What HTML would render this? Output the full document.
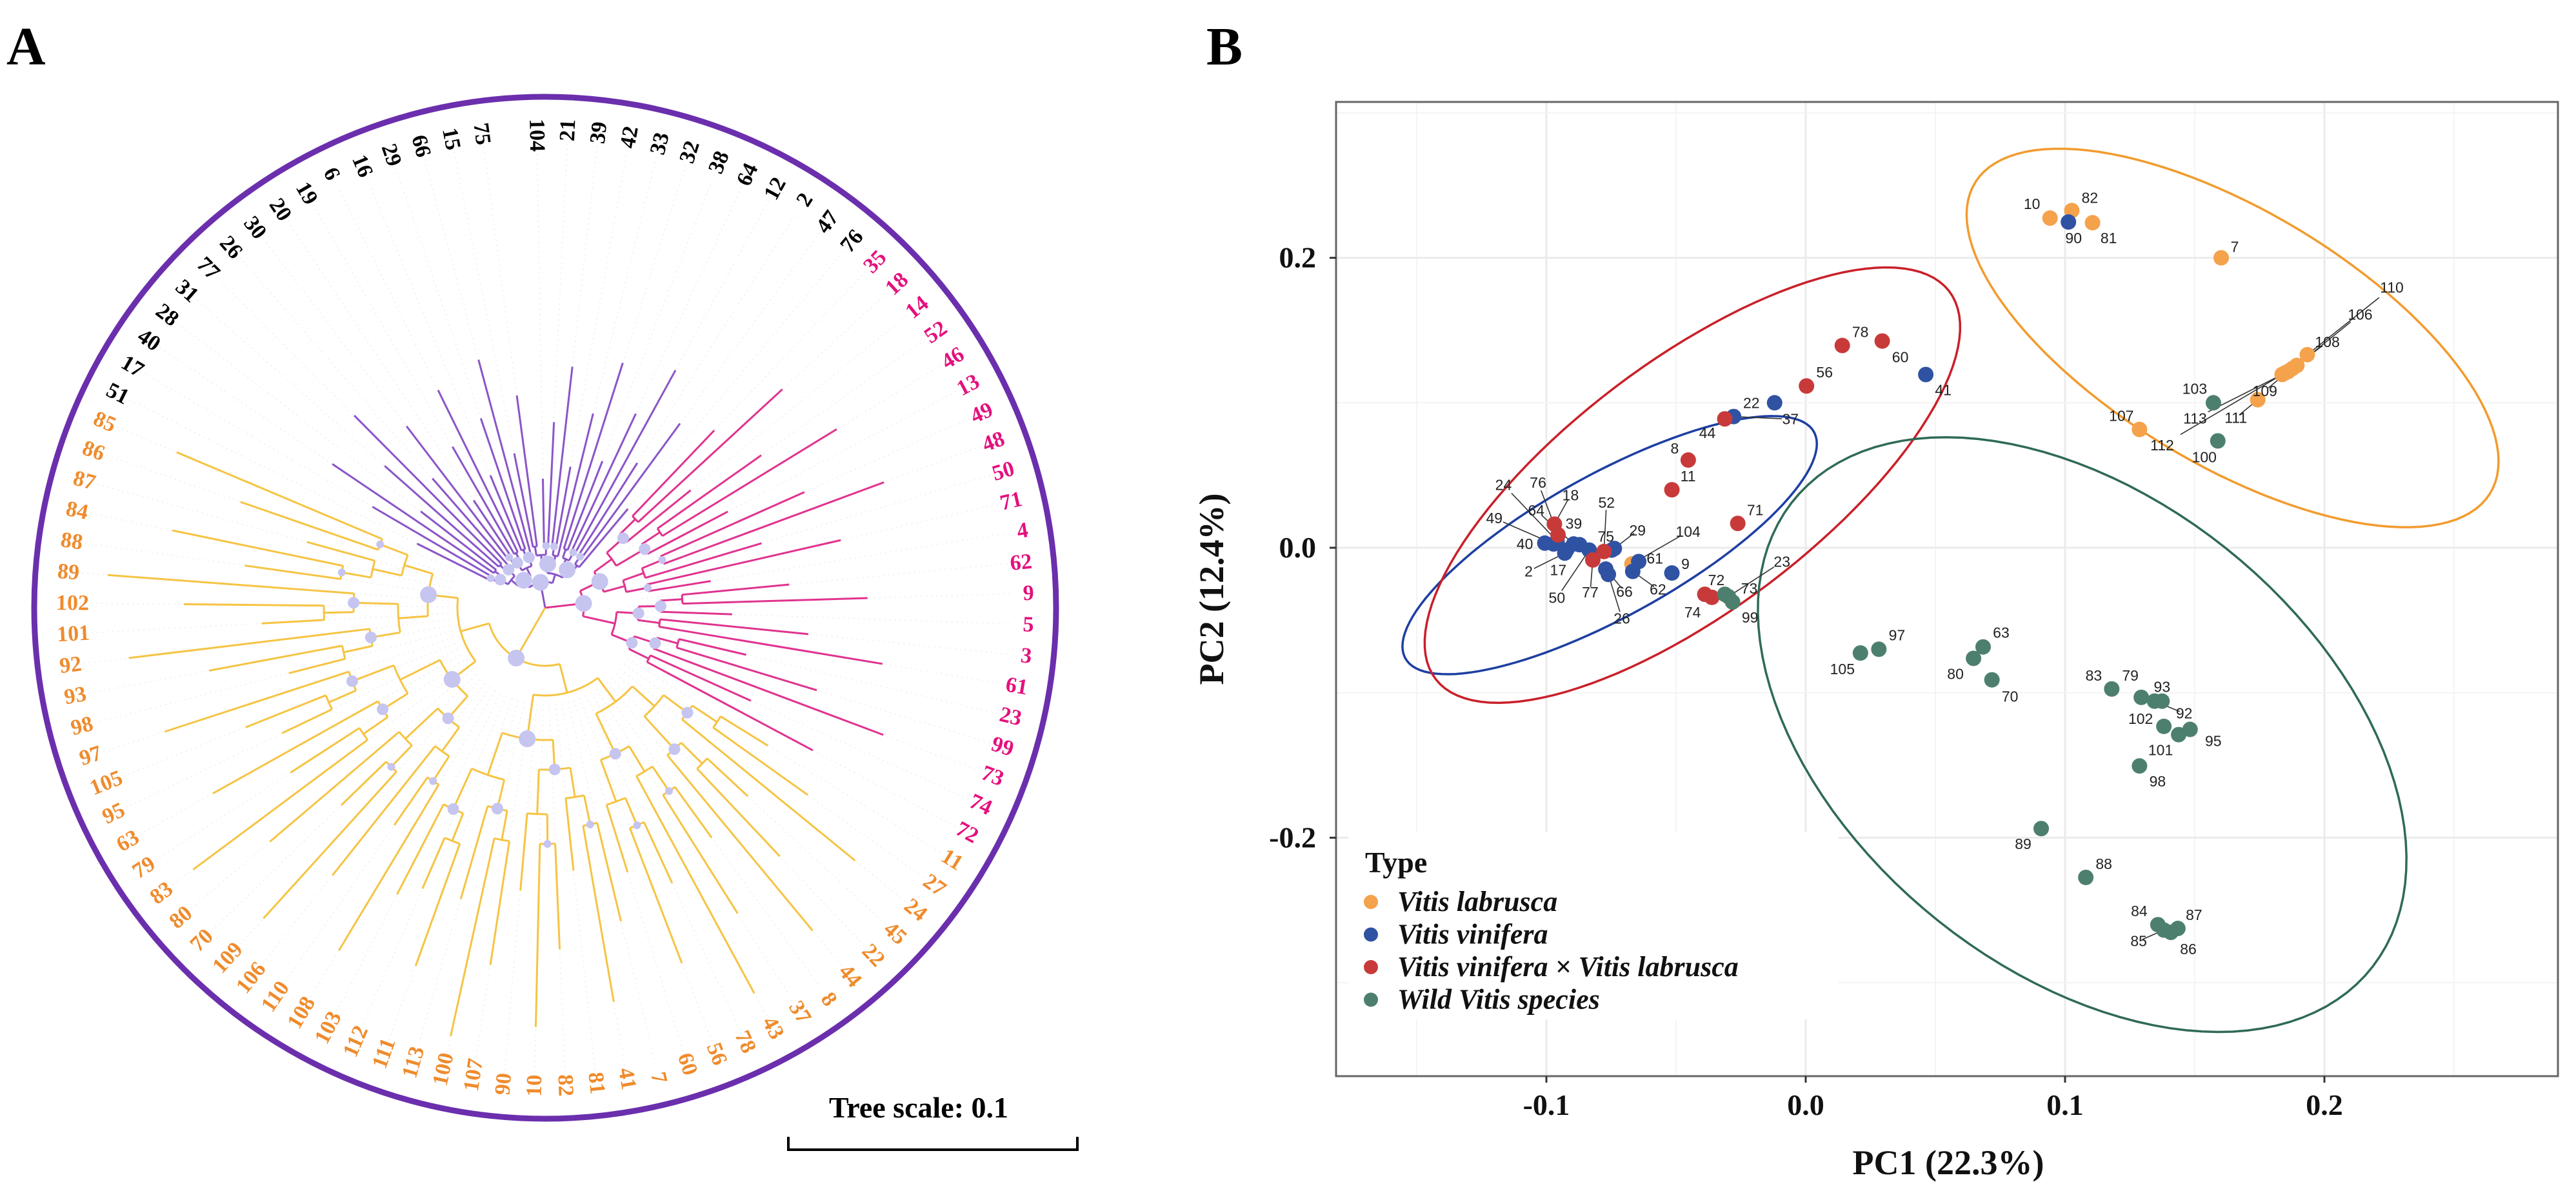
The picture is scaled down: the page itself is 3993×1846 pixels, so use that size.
<!DOCTYPE html>
<html><head><meta charset="utf-8"><style>
html,body{margin:0;padding:0;background:#fff;}
svg{display:block;}
</style></head><body>
<svg id="fig" width="3993" height="1846" viewBox="0 0 3993 1846" xmlns="http://www.w3.org/2000/svg">
<text x="10" y="100" font-family="Liberation Serif, serif" font-weight="bold" font-size="84">A</text>
<text x="1870" y="100" font-family="Liberation Serif, serif" font-weight="bold" font-size="84">B</text>
<g id="tree"></g>
<g id="pca"></g>
</svg>
<script>
// ---------- Panel A data ----------
const tipLabels = ["104","21","39","42","33","32","38","64","12","2","47","76",
"35","18","14","52","46","13","49","48","50","71","4","62","9","5","3","61","23","99","73","74","72",
"11","27","24","45","22","44","8","37","43","78","56","60","7","41","81","82","10","90","107","100","113","111","112","103","108","110","106","109","70","80","83","79","63","95","105","97","98","93","92","101","102","89","88","84","87","86","85",
"51","17","40","28","31","77","26","30","20","19","6","16","29","66","15","75"];
const tipClade = [];
for (let i=0;i<tipLabels.length;i++){ tipClade.push(i<12?0:(i<33?1:(i<80?2:0))); }

// ---------- Panel B data ----------
const typeNames = ["Vitis labrusca","Vitis vinifera","Vitis vinifera × Vitis labrusca","Wild Vitis species"];
const ptLabels = ["10","82","81","7","110","106","108","109","113","112","111","107","104",
"90","41","22","37","40","49","2","24","64","17","39","50","75","29","66","26","62","61","9",
"78","60","56","44","8","11","71","18","76","77","52","74","72",
"73","23","99","103","100","97","105","63","80","70","83","79","93","92","102","95","101","98","89","88","84","85","86","87"];
const ptType = [0,0,0,0,0,0,0,0,0,0,0,0,0,
1,1,1,1,1,1,1,1,1,1,1,1,1,1,1,1,1,1,1,
2,2,2,2,2,2,2,2,2,2,2,2,2,
3,3,3,3,3,3,3,3,3,3,3,3,3,3,3,3,3,3,3,3,3,3,3,3];
const pc1 = [0.0942,0.1026,0.1106,0.1602,0.1934,0.1894,0.1877,0.1860,0.1837,0.1847,0.1743,0.1287,-0.0670,
0.1013,0.0463,-0.0120,-0.0278,-0.1006,-0.0972,-0.0929,-0.0959,-0.0895,-0.0922,-0.0872,-0.0835,-0.0748,-0.0738,-0.0771,-0.0761,-0.0667,-0.0644,-0.0516,
0.0141,0.0295,0.0003,-0.0312,-0.0453,-0.0516,-0.0262,-0.0969,-0.0955,-0.0821,-0.0778,-0.0389,-0.0362,
-0.0312,-0.0298,-0.0282,0.1572,0.1589,0.0282,0.0211,0.0684,0.0647,0.0718,0.1180,0.1294,0.1374,0.1345,0.1381,0.1482,0.1438,0.1287,0.0908,0.1080,0.1358,0.1381,0.1408,0.1435];
const pc2 = [0.2274,0.2326,0.2242,0.2000,0.1332,0.1258,0.1237,0.1216,0.1195,0.1205,0.1021,0.0816,-0.0111,
0.2247,0.1195,0.1000,0.0905,0.0032,0.0026,-0.0037,0.0047,0.0026,-0.0016,0.0021,-0.0016,-0.0016,-0.0005,-0.0147,-0.0184,-0.0163,-0.0095,-0.0174,
0.1395,0.1426,0.1116,0.0889,0.0605,0.0400,0.0168,0.0163,0.0089,-0.0084,-0.0026,-0.0321,-0.0342,
-0.0321,-0.0337,-0.0374,0.1000,0.0737,-0.0700,-0.0726,-0.0684,-0.0763,-0.0911,-0.0974,-0.1032,-0.1058,-0.1058,-0.1232,-0.1253,-0.1289,-0.1505,-0.1937,-0.2274,-0.2600,-0.2637,-0.2653,-0.2626];
const xTicks = [-0.1,0.0,0.1,0.2];
const xTickLabels = ["-0.1","0.0","0.1","0.2"];
const yTicks = [-0.2,0.0,0.2];
const yTickLabels = ["-0.2","0.0","0.2"];
const ellCx = [0.1646,-0.0756,-0.0437,0.1066];
const ellCy = [0.1447,0.0018,0.0432,-0.1289];
const ellUx = [0.0976,0.0782,0.0972,0.1021];
const ellUy = [-0.1114,0.0797,0.1374,-0.1779];
const ellVx = [-0.0315,0.0164,0.0348,-0.0722];
const ellVy = [-0.0681,-0.0397,-0.0606,-0.1021];

const labelOffsets = {"10":[-28,-22],"82":[28,-20],"81":[25,24],"7":[21,-17],"110":[131,-104],"106":[98,-79],"108":[54,-41],"109":[-36,30],"113":[-135,68],"112":[-190,112],"111":[-34,28],"107":[-28,-21],"104":[87,-50],
"90":[8,25],"41":[27,24],"22":[-36,0],"37":[88,4],"40":[-31,1],"49":[-92,-40],"2":[-56,28],"24":[-83,-87],"64":[-58,-52],"17":[-13,31],"39":[-9,-33],"50":[-50,74],"75":[-9,-21],"29":[36,-28],"66":[29,35],"26":[21,68],"62":[39,28],"61":[25,-5],"9":[21,-14],
"78":[28,-21],"60":[28,25],"56":[28,-21],"44":[-27,22],"8":[-21,-18],"11":[25,-21],"71":[27,-21],"18":[25,-45],"76":[-31,-81],"77":[-4,50],"52":[4,-76],"74":[-19,28],"72":[7,-27],
"73":[38,-9],"23":[83,-54],"99":[27,24],"103":[-29,-22],"100":[-21,25],"97":[28,-22],"105":[-28,25],"63":[28,-22],"80":[-28,24],"70":[28,26],"83":[-28,-21],"79":[-17,-34],"93":[0,-22],"92":[46,19],"102":[-36,-12],"95":[36,18],"101":[-28,24],"98":[28,24],"89":[-28,24],"88":[28,-21],"84":[-29,-21],"85":[-39,17],"86":[27,26],"87":[25,-21]};

const NS="http://www.w3.org/2000/svg";
function mk(tag,attrs,parent){const e=document.createElementNS(NS,tag);for(const k in attrs)e.setAttribute(k,attrs[k]);parent.appendChild(e);return e;}

// ================= Panel A =================
(function(){
const g=document.getElementById('tree');
const CX=845, CY=942, R=792;
const N=tipLabels.length, start=-91, step=3.72;
const ang=i=>(start+i*step+(i<12?360:0));
const rad=d=>d*Math.PI/180;
const pt=(r,a)=>[CX+r*Math.cos(rad(a)),CY+r*Math.sin(rad(a))];
const branchCol=["#8a55c8","#e0338f","#f5c443"];
const labCol=["#000","#e4107d","#ef8b2c"];
const stepFor=[14,34,46];
for(let i=0;i<N;i++){const a=ang(i);const p1=pt(150,a),p2=pt(725,a);
 const l=mk('line',{x1:p1[0],y1:p1[1],x2:p2[0],y2:p2[1],stroke:"#ececec","stroke-width":1.5,"stroke-dasharray":"2 6"},g);
 
 }
const tipLen=i=>{const c=tipClade[i];const k=(i*37)%11;return c===0?200+k*22:(c===1?260+k*30:380+k*30);};
const nodes=[];
function arc(r,a1,a2,col){if(a2<a1){const t=a1;a1=a2;a2=t;}const p1=pt(r,a1),p2=pt(r,a2);const large=(a2-a1)>180?1:0;
 const e=mk('path',{d:`M${p1[0]},${p1[1]} A${r},${r} 0 ${large} 1 ${p2[0]},${p2[1]}`,fill:"none",stroke:col,"stroke-width":3},g);
 
 }
function rline(r1,r2,a,col){const p1=pt(r1,a),p2=pt(r2,a);
 const e=mk('line',{x1:p1[0],y1:p1[1],x2:p2[0],y2:p2[1],stroke:col,"stroke-width":3},g);
 
 }
function build(idx,r,col,cl){
 if(idx.length===1){rline(r,Math.max(tipLen(idx[0]),r+40),ang(idx[0]),col);return ang(idx[0]);}
 const mid=Math.ceil(idx.length/2);
 const s=stepFor[cl];
 const r1=r+s, r2=r+s*(idx.length%3===0?1.5:1);
 const a1=build(idx.slice(0,mid),r1,col,cl);
 const a2=build(idx.slice(mid),r2,col,cl);
 rline(r,r1,a1,col);
 rline(r,r2,a2,col);
 arc(r,a1,a2,col);
 const am=(a1+a2)/2;nodes.push([r,am,idx.length]);
 return am;}
function attach(idx,rStart,r0,col,cl){const am=build(idx,r0,col,cl);rline(rStart,r0,am,col);return am;}
const purple=[];for(let i=80;i<N;i++)purple.push(i);for(let i=0;i<12;i++)purple.push(i);
const pink=[];for(let i=12;i<33;i++)pink.push(i);
const yellow=[];for(let i=33;i<80;i++)yellow.push(i);
attach(purple,0,40,branchCol[0],0);
attach(pink,0,60,branchCol[1],1);
attach(yellow,0,90,branchCol[2],2);
nodes.forEach((n,j)=>{if(j%2)return;const p=pt(n[0],n[1]);const rr=n[2]>6?13:(n[2]>2?9:6);
 const c=mk('circle',{cx:p[0],cy:p[1],r:rr,fill:"#c6c5f0"},g);
 
 });
const ring=mk('circle',{cx:CX,cy:CY,r:R,fill:"none",stroke:"#6b2fad","stroke-width":9},g);


for(let i=0;i<N;i++){let a=ang(i);const p=pt(758,a);const c=Math.cos(rad(a));
 const rot=c>=0?a:a+180;const anch=c>=0?"end":"start";
 const t=mk('text',{x:0,y:0,transform:`translate(${p[0]},${p[1]}) rotate(${rot})`,"text-anchor":anch,"dominant-baseline":"central","font-family":"Liberation Serif, serif","font-weight":"bold","font-size":34,fill:labCol[tipClade[i]]},g);
 t.textContent=tipLabels[i];
 
 }
const st=mk('text',{x:1424,y:1732,"text-anchor":"middle","font-family":"Liberation Serif, serif","font-weight":"bold","font-size":46,fill:"#000"},g);
st.textContent="Tree scale: 0.1";


const sb=mk('path',{d:"M1222,1762 L1222,1782 L1670,1782 L1670,1762",fill:"none",stroke:"#000","stroke-width":4},g);


})();

// ================= Panel B =================
(function(){
const g=document.getElementById('pca');
const L=2071,Rr=3965,T=158,B=1668;
const X=v=>2799+v*4020;
const Y=v=>849-v*2247;
const cols=["#f4a24c","#3052a3","#c83a3a","#4d7f6f"];
const ellCols=["#f29b2e","#1d3fa2","#c9202a","#2f6a57"];
const bg=mk('rect',{x:L,y:T,width:Rr-L,height:B-T,fill:"#fff"},g);


for(let v=-0.15;v<=0.28;v+=0.05){const x=X(v);const major=Math.abs(Math.round(v*20))%2===0;
 const l=mk('line',{x1:x,y1:T,x2:x,y2:B,stroke:major?"#ebebeb":"#f4f4f4","stroke-width":major?3:2},g);
 
 }
for(let v=-0.3;v<=0.31;v+=0.1){const y=Y(v);const major=Math.abs(Math.round(v*10))%2===0;
 const l=mk('line',{x1:L,y1:y,x2:Rr,y2:y,stroke:major?"#ebebeb":"#f4f4f4","stroke-width":major?3:2},g);
 
 }
const lb=mk('rect',{x:2090,y:1290,width:760,height:290,fill:"#fff"},g);


for(let k=0;k<4;k++){let d="";for(let s=0;s<=120;s++){const t=s/120*2*Math.PI;
 const vx=ellCx[k]+ellUx[k]*Math.cos(t)+ellVx[k]*Math.sin(t);
 const vy=ellCy[k]+ellUy[k]*Math.cos(t)+ellVy[k]*Math.sin(t);
 d+=(s?"L":"M")+X(vx).toFixed(1)+","+Y(vy).toFixed(1);}
 const e=mk('path',{d:d+"Z",fill:"none",stroke:ellCols[k],"stroke-width":3.5},g);
 
 }
for(let i=0;i<pc1.length;i++){const o=labelOffsets[ptLabels[i]]||[24,-20];const px=X(pc1[i]),py=Y(pc2[i]);
 if(Math.hypot(o[0],o[1])>42){const l=mk('line',{x1:px,y1:py,x2:px+o[0]*0.85,y2:py+o[1]*0.85,stroke:"#333","stroke-width":1.6},g);
  
  }}
for(let i=0;i<pc1.length;i++){const p=mk('circle',{cx:X(pc1[i]),cy:Y(pc2[i]),r:12,fill:cols[ptType[i]]},g);
 
 }
for(let i=0;i<pc1.length;i++){const o=labelOffsets[ptLabels[i]]||[24,-20];
 const t=mk('text',{x:X(pc1[i])+o[0],y:Y(pc2[i])+o[1],"text-anchor":"middle","dominant-baseline":"central","font-family":"Liberation Sans, sans-serif","font-size":23,fill:"#222"},g);
 t.textContent=ptLabels[i];
 
 }
const br=mk('rect',{x:L,y:T,width:Rr-L,height:B-T,fill:"none",stroke:"#666","stroke-width":3},g);


xTicks.forEach((v,i)=>{const x=X(v);
 const tk=mk('line',{x1:x,y1:B,x2:x,y2:B+10,stroke:"#333","stroke-width":3},g);
 
 
 const t=mk('text',{x:x,y:1728,"text-anchor":"middle","font-family":"Liberation Serif, serif","font-weight":"bold","font-size":46,fill:"#111"},g);
 t.textContent=xTickLabels[i];
 
 });
yTicks.forEach((v,i)=>{const y=Y(v);
 const tk=mk('line',{x1:L-10,y1:y,x2:L,y2:y,stroke:"#333","stroke-width":3},g);
 
 
 const t=mk('text',{x:2040,y:y+15,"text-anchor":"end","font-family":"Liberation Serif, serif","font-weight":"bold","font-size":46,fill:"#111"},g);
 t.textContent=yTickLabels[i];
 
 });
const xt=mk('text',{x:3020,y:1820,"text-anchor":"middle","font-family":"Liberation Serif, serif","font-weight":"bold","font-size":54,fill:"#111"},g);
xt.textContent="PC1 (22.3%)";


const yt=mk('text',{x:0,y:0,transform:"translate(1896,913) rotate(-90)","text-anchor":"middle","font-family":"Liberation Serif, serif","font-weight":"bold","font-size":54,fill:"#111"},g);
yt.textContent="PC2 (12.4%)";


const ltl=mk('text',{x:2116,y:1352,"font-family":"Liberation Serif, serif","font-weight":"bold","font-size":46,fill:"#111"},g);
ltl.textContent="Type";


typeNames.forEach((n,k)=>{const y=1398+k*50.5;
 const c=mk('circle',{cx:2125,cy:y,r:11,fill:cols[k]},g);
 
 
 const t=mk('text',{x:2166,y:y+14,"font-family":"Liberation Serif, serif","font-style":"italic","font-weight":"bold","font-size":44,fill:"#111"},g);
 t.textContent=n;
 
 });
})();
</script>
</body></html>
